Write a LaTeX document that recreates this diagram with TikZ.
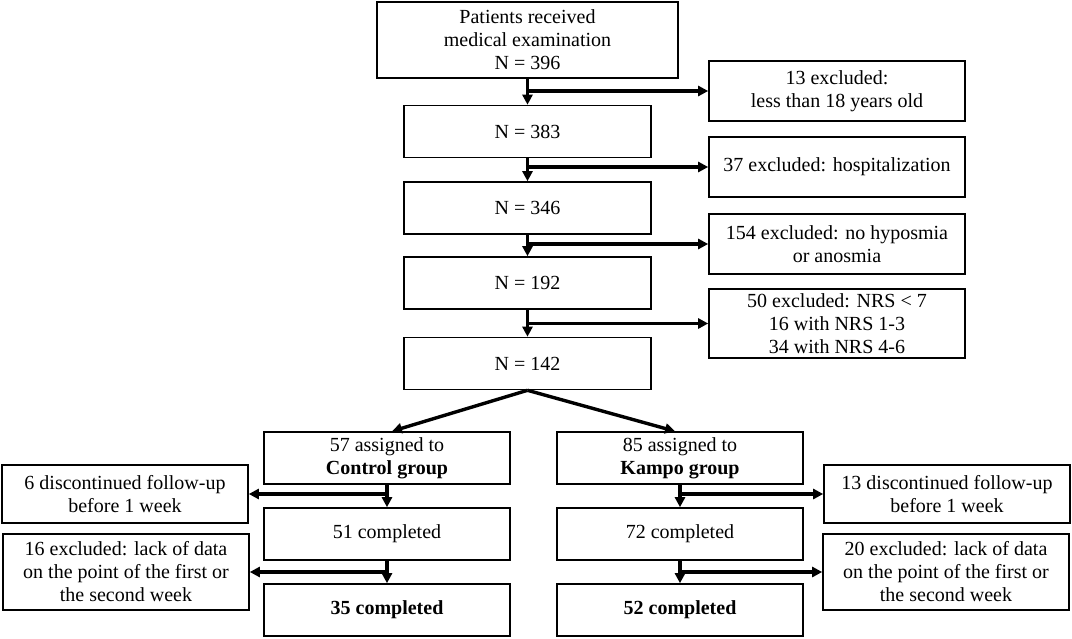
\documentclass[tikz,border=0pt]{standalone}
\usepackage{fontspec}
\setmainfont{Liberation Serif}
\usetikzlibrary{arrows.meta}
\usetikzlibrary{positioning}

\begin{document}
\begin{tikzpicture}
        [x=1pt, y=-1pt,
         box/.style={draw, line width=1.6pt, align=center, inner sep=0pt,
                     font=\fontsize{20}{23}\selectfont},
         mainbox/.style={box, minimum width=247pt, minimum height=52pt},
         sidebox/.style={box, minimum width=256pt, minimum height=60pt},
         groupbox/.style={box, minimum width=246pt, minimum height=52pt},
         outbox/.style={box, minimum width=246pt},
         arr/.style={line width=3.4pt, -{Triangle[length=10pt,width=10pt]}}]
        \useasboundingbox (0,0) rectangle (1072,638);
        % screening column
        \node [box, minimum width=301pt, minimum height=76pt] (top) at (527.5,40)
              {Patients received\\medical examination\\N = 396};
        \node [mainbox] (n383) at (527.5,131.5) {N = 383};
        \node [mainbox] (n346) at (527.5,208) {N = 346};
        \node [mainbox] (n192) at (527.5,283) {N = 192};
        \node [mainbox] (n142) at (527.5,363.5) {N = 142};
        \node [sidebox] (ex1) at (837,91) {13 excluded:\\less than 18 years old};
        \node [sidebox] (ex2) at (837,167) {37 excluded: hospitalization};
        \node [sidebox] (ex3) at (837,244) {154 excluded: no hyposmia\\or anosmia};
        \node [sidebox, minimum height=69pt] (ex4) at (837,323.5)
              {50 excluded: NRS < 7\\16 with NRS 1-3\\34 with NRS 4-6};
        % groups
        \node [groupbox] (ctrl) at (387,458) {57 assigned to\\\textbf{Control group}};
        \node [groupbox] (ctrl51) at (387,534) {51 completed};
        \node [groupbox] (ctrl35) at (387,610) {\textbf{35 completed}};
        \node [groupbox] (kampo) at (680,458) {85 assigned to\\\textbf{Kampo group}};
        \node [groupbox] (kampo72) at (680,534) {72 completed};
        \node [groupbox] (kampo52) at (680,610) {\textbf{52 completed}};
        \node [outbox, minimum height=58pt] (lx1) at (125,494)
              {6 discontinued follow-up\\before 1 week};
        \node [outbox, minimum height=76pt] (lx2) at (126,572)
              {16 excluded: lack of data\\on the point of the first or\\the second week};
        \node [outbox, minimum height=58pt] (rx1) at (947,494)
              {13 discontinued follow-up\\before 1 week};
        \node [outbox, minimum height=76pt] (rx2) at (946,572)
              {20 excluded: lack of data\\on the point of the first or\\the second week};
        % connectors
        \draw [arr] (top) -- (n383);
        \draw [arr] (n383) -- (n346);
        \draw [arr] (n346) -- (n192);
        \draw [arr] (n192) -- (n142);
        \draw [arr] (top.south |- ex1) -- (ex1);
        \draw [arr] (n383.south |- ex2) -- (ex2);
        \draw [arr] (n346.south |- ex3) -- (ex3);
        \draw [arr] (n192.south |- ex4) -- (ex4);
        \draw [arr] (n142.south) -- ([xshift=5pt]ctrl.north);
        \draw [arr] (n142.south) -- ([xshift=-5pt]kampo.north);
        \draw [arr] (ctrl) -- (ctrl51);
        \draw [arr] (ctrl51) -- (ctrl35);
        \draw [arr] (kampo) -- (kampo72);
        \draw [arr] (kampo72) -- (kampo52);
        \draw [arr] (ctrl.south |- lx1) -- (lx1);
        \draw [arr] (ctrl51.south |- lx2) -- (lx2);
        \draw [arr] (kampo.south |- rx1) -- (rx1);
        \draw [arr] (kampo72.south |- rx2) -- (rx2);
\end{tikzpicture}
\end{document}
